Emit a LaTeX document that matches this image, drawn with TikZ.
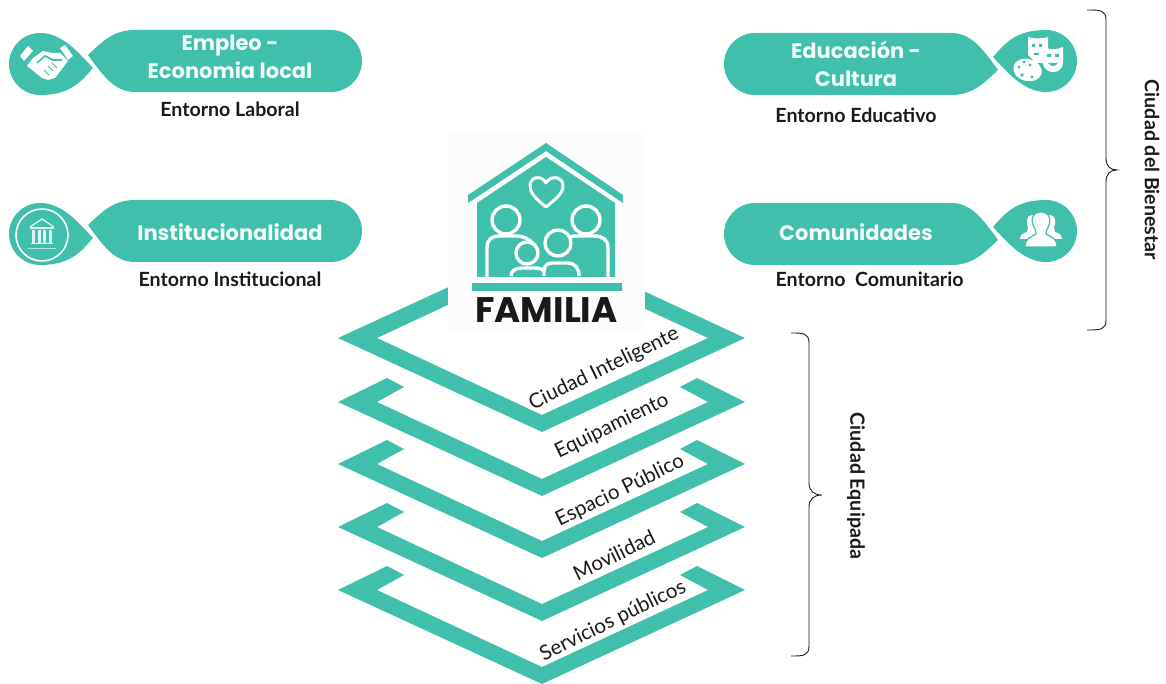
\documentclass[tikz,border=0pt]{standalone}
\usepackage{fontspec}
\setmainfont{Lato}
\newfontfamily\pop{Poppins}
\usetikzlibrary{calc}
\definecolor{teal1}{HTML}{40BFAC}
\definecolor{ink}{HTML}{1A1A1A}
\tikzset{
  x=1pt,y=-1pt,
  band/.style={fill=teal1,draw=none},
  pilltext/.style={text=white!92!teal1,font=\pop\bfseries\fontsize{21}{28}\selectfont,align=center,inner sep=0pt},
  sublabel/.style={text=ink,font=\bfseries\fontsize{19.6}{22}\selectfont,inner sep=0pt},
  lvl/.style={text=ink,font=\fontsize{20.5}{24}\selectfont,inner sep=0pt,rotate=26},
  bracelab/.style={text=ink,font=\bfseries\fontsize{19.6}{22}\selectfont,inner sep=0pt,rotate=-90},
  brace/.style={draw=ink,line width=0.9pt,fill=none},
  iconw/.style={fill=white,draw=none},
  iconl/.style={draw=white,fill=none,line width=1.6pt},
  fam/.style={draw=white,fill=teal1,line width=3.4pt},
}
\newcommand{\chev}[1]{%
  \fill[band] (338,#1) -- (542,#1+94) -- (745,#1) -- (697,#1-24) -- (680,#1-15) -- (708,#1)
   -- (542,#1+77) -- (377,#1) -- (404,#1-15) -- (387,#1-24) -- cycle;}
% left-hand pill + drop, #1 = top of pill
\newcommand{\lpill}[1]{%
  \fill[band] (88,#1+25) .. controls (102,#1+12) and (113,#1) .. (135,#1)
    -- (331,#1) .. controls (348,#1) and (362,#1+14) .. (362,#1+31)
    .. controls (362,#1+48) and (348,#1+62) .. (331,#1+62)
    -- (135,#1+62) .. controls (115,#1+62) and (104,#1+47) .. cycle;
  \fill[band] (93,#1+38) .. controls (82,#1+50) and (72,#1+65) .. (40,#1+65)
    .. controls (23,#1+65) and (9,#1+51) .. (9,#1+34)
    .. controls (9,#1+17) and (23,#1+3) .. (40,#1+3)
    .. controls (62,#1+3) and (78,#1+22) .. cycle;}
\newcommand{\rpill}[1]{%
  \fill[band] (998,#1+37) .. controls (984,#1+50) and (973,#1+62) .. (951,#1+62)
    -- (755,#1+62) .. controls (738,#1+62) and (724,#1+48) .. (724,#1+31)
    .. controls (724,#1+14) and (738,#1) .. (755,#1)
    -- (951,#1) .. controls (971,#1) and (982,#1+15) .. cycle;
  \fill[band] (993,#1+24) .. controls (1004,#1+12) and (1014,#1-3) .. (1046,#1-3)
    .. controls (1063,#1-3) and (1077,#1+11) .. (1077,#1+28)
    .. controls (1077,#1+45) and (1063,#1+59) .. (1046,#1+59)
    .. controls (1024,#1+59) and (1008,#1+40) .. cycle;}
\begin{document}
\begin{tikzpicture}
\useasboundingbox (0,0) rectangle (1166,684);
% levels
\fill[band,even odd rule] (338,338) -- (542,244) -- (745,338) -- (542,432) -- cycle
  (377,338) -- (542,261) -- (708,338) -- (542,415) -- cycle;
\chev{402}\chev{464}\chev{527}\chev{590}
% family card
\fill[white!99!black] (448,133) rectangle (645,330);
\fill[teal1] (546,143) -- (623,195) -- (623,203) -- (546,151) -- (468,203) -- (468,195) -- cycle;
\fill[teal1] (546,157) -- (615,203) -- (615,277) -- (477,277) -- (477,203) -- cycle;
\fill[teal1] (472,283) rectangle (622,291);
\draw[draw=white,line width=3pt,fill=none,line join=round] (546,207) .. controls (536,199) and (530,193) .. (530,186) .. controls (530,176) and (542,175) .. (546,183) .. controls (550,175) and (563,176) .. (563,186) .. controls (563,193) and (556,199) .. (546,207) -- cycle;
% adults
\draw[fam] (487,277) -- (487,248) .. controls (487,239) and (492,236) .. (500,236) -- (516,236) .. controls (524,236) and (530,239) .. (535,246);
\draw[fam] (608,277) -- (608,248) .. controls (608,239) and (602,236) .. (594,236) -- (576,236) .. controls (570,236) and (566,238) .. (564,241);
\draw[fam] (506,220) circle[radius=14];
\draw[fam] (586,220) circle[radius=14];
% children
\fill[teal1] (510,277) .. controls (510,270) and (515,267) .. (522,267) -- (534,267) .. controls (543,267) and (546,270) .. (546,277) -- cycle;
\draw[fam] (511,276) .. controls (511,271) and (515,268) .. (522,268) -- (534,268) .. controls (543,268) and (546,271) .. (546,276);
\draw[fam] (527,253) circle[radius=11];
\fill[teal1] (543,277) -- (543,270) .. controls (543,264) and (548,262) .. (553,262) -- (567,262) .. controls (575,262) and (579,268) .. (579,277) -- cycle;
\draw[fam] (544,276) -- (544,271) .. controls (544,265) and (548,263) .. (553,263) -- (567,263) .. controls (575,263) and (579,268) .. (579,276);
\draw[fam] (558,243) circle[radius=13];
\node[inner sep=0pt,text=black!90,font=\pop\bfseries\fontsize{35.5}{38}\selectfont] (familia) at (546.5,310) {FAMILIA};
% pills
\lpill{30}\lpill{200}\rpill{33}\rpill{203}
\node[pilltext] (empleo) at (230,57) {Empleo -\\Economia local};
\node[pilltext] (inst) at (230,232) {Institucionalidad};
\node[pilltext] (edu) at (856,64) {Educación -\\Cultura};
\node[pilltext] (comu) at (856,232) {Comunidades};
\node[sublabel] (l1) at (230,109) {Entorno Laboral};
\node[sublabel] (l2) at (230,279) {Entorno Institucional};
\node[sublabel] (l3) at (856,115) {Entorno Educativo};
\node[sublabel] (l4) at (869.5,279) {Entorno\ \ Comunitario};
% handshake icon
\fill[iconw] (20,56) -- (28,46) -- (33,51) -- (24,61) -- cycle;
\fill[iconw] (60,48) -- (65,45) -- (73,56) -- (68,60) -- cycle;
\fill[iconw] (33,58) -- (43,51) -- (52,53) -- (60,53) -- (68,61) -- (55,78) -- (48,80) -- (42,78) -- (27,66) -- cycle;
\draw[teal1,line width=1.6pt] (37,63) -- (45,56) -- (53,60) -- (62,60);
\draw[teal1,line width=0.8pt] (44,70) -- (49,75) (48,66) -- (53,71) (52,63) -- (57,68);
% institution icon
\begin{scope}[shift={(42,235)}]
  \draw[iconl] (0,0) circle[radius=26];
  \draw[white,line width=1pt,fill=none] (-12,-8) -- (0,-16) -- (12,-8);
  \fill[white!85!teal1] (-12,-8) rectangle (12,-6);
  \foreach \xx in {-10,-4.5,1,6.5}{\fill[white!85!teal1] (\xx,-5) rectangle ++(3.4,13);}
  \fill[white!85!teal1] (-11,8) rectangle (11,9.5);
  \fill[white!60!teal1] (-14,13) rectangle (14,14.5);
\end{scope}
% masks and palette icon
\begin{scope}[shift={(1046,61)}]
  \fill[iconw] (-18,-24) .. controls (-12,-22) and (-4,-22) .. (2,-24) -- (2,-12) -- (-3,-14) -- (-3,2) -- (-10,2) -- (-18,-6) -- cycle;
  \fill[teal1] (-14,-17) rectangle (-11,-14) (-7,-17) rectangle (-4,-14) (-12,-8) rectangle (-7,-6);
  \fill[iconw] (-3,-14) .. controls (4,-11) and (11,-11) .. (17,-14) -- (17,2) .. controls (16,10) and (10,11) .. (7,11) .. controls (3,11) and (-2,9) .. (-3,2) -- cycle;
  \fill[teal1] (1,-7) rectangle (5,-4) (9,-7) rectangle (13,-4);
  \fill[teal1] (2,2) .. controls (5,6) and (9,6) .. (12,2) -- cycle;
  \fill[iconw,shift={(-18.5,9)},rotate=-15] (0,0) ellipse[x radius=14.5, y radius=11];
  \fill[teal1] (-27,6) circle[radius=1.7] (-22,1) circle[radius=1.7] (-16,4) circle[radius=1.7] (-24,14) circle[radius=1.9] (-14,16) circle[radius=1.7];
\end{scope}
% people icon
\begin{scope}[shift={(1041,231)}]
  \fill[iconw] (-9,-16) .. controls (-15,-16) and (-15,-8) .. (-13,-4) -- (-14,1) .. controls (-18,2) and (-21,4) .. (-21,8) -- (-10,8) -- (-4,0) -- (-4,-14) -- cycle;
  \fill[iconw] (9,-16) .. controls (15,-16) and (15,-8) .. (13,-4) -- (14,1) .. controls (18,2) and (21,4) .. (21,8) -- (10,8) -- (4,0) -- (4,-14) -- cycle;
  \draw[teal1,line width=1.2pt,fill=white] (0,-19) .. controls (-11,-19) and (-10,-7) .. (-6,-2) -- (-5,3) .. controls (-10,6) and (-16,7) .. (-16,16) -- (16,16) .. controls (16,7) and (10,6) .. (5,3) -- (6,-2) .. controls (10,-7) and (11,-19) .. (0,-19) -- cycle;
\end{scope}
% level labels
\node[lvl] (n1) at (604,369) {Ciudad Inteligente};
\node[lvl] (n2) at (612,426) {Equipamiento};
\node[lvl] (n3) at (620,491) {Espacio Público};
\node[lvl] (n4) at (614,555) {Movilidad};
\node[lvl] (n5) at (613,621) {Servicios públicos};
% braces
\draw[brace] (1087,10) .. controls (1100,10) and (1106,10) .. (1106,20) -- (1106,158) .. controls (1106,166) and (1110,170) .. (1117,170) .. controls (1110,170) and (1106,174) .. (1106,182) -- (1106,320) .. controls (1106,330) and (1100,330) .. (1087,330);
\draw[brace] (791,333) .. controls (803,333) and (809,333) .. (809,343) -- (809,483) .. controls (809,491) and (814,495) .. (822,495) .. controls (814,495) and (809,499) .. (809,507) -- (809,646) .. controls (809,656) and (803,656) .. (791,656);
\node[bracelab] (b1) at (1152,170) {Ciudad del Bienestar};
\node[bracelab] (b2) at (856,486) {Ciudad Equipada};
\end{tikzpicture}
\end{document}
